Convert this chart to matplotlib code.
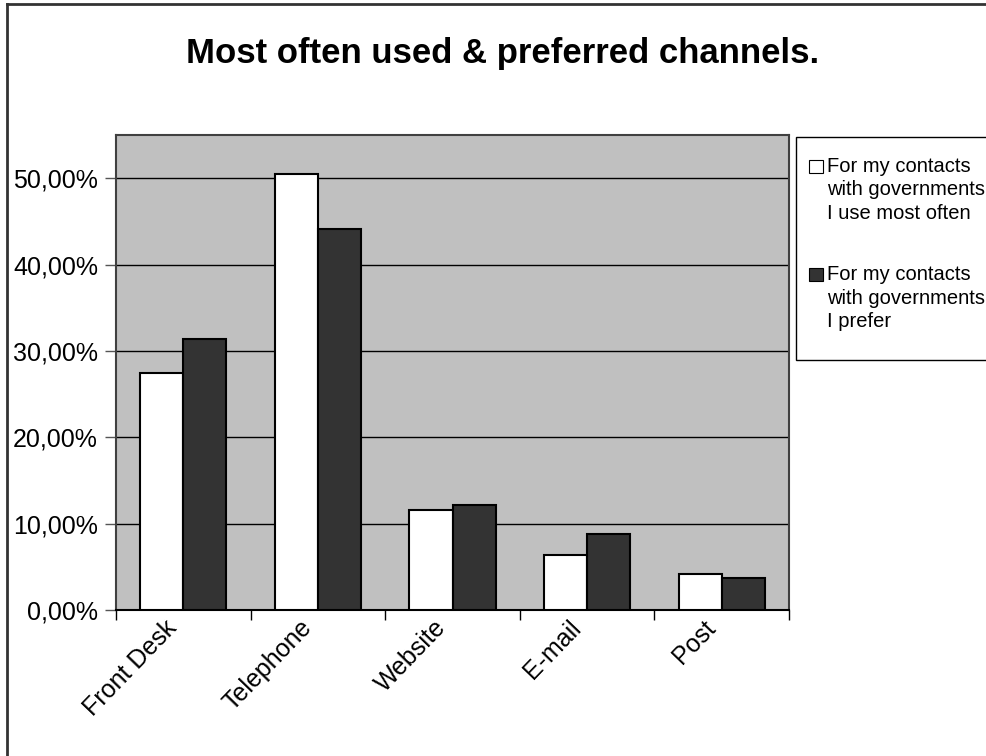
import numpy as np
import matplotlib
matplotlib.use("Agg")
import matplotlib.pyplot as plt
import matplotlib.transforms as mtransforms
from matplotlib.ticker import FuncFormatter, FixedLocator
from matplotlib.lines import Line2D
from matplotlib.patches import Rectangle

plt.rcParams['font.family'] = ['Liberation Sans', 'DejaVu Sans']

# data
channels = ["Front Desk", "Telephone", "Website", "E-mail", "Post"]
use_most_often = [0.274, 0.505, 0.116, 0.064, 0.042]
prefer = [0.314, 0.441, 0.122, 0.088, 0.037]
series_labels = ["For my contacts\nwith governments\nI use most often",
                 "For my contacts\nwith governments\nI prefer"]
series_colors = ["white", "#333333"]

W, H = 987, 756
fig = plt.figure(figsize=(W / 100, H / 100), dpi=100, facecolor="w")

def fx(px):
    return px / W

def fy(py):
    return 1 - py / H

ax = fig.add_axes([fx(116), fy(610), fx(789) - fx(116), fy(135) - fy(610)])
ax.set_facecolor("#c0c0c0")

x = np.arange(len(channels))
w = 0.32
ax.bar(x - w/2, use_most_often, w, color=series_colors[0], edgecolor="black", linewidth=1.5, zorder=3)
ax.bar(x + w/2, prefer, w, color=series_colors[1], edgecolor="black", linewidth=1.5, zorder=3)

ax.set_xlim(-0.5, len(channels) - 0.5)
ax.set_ylim(0, 0.55)
ax.set_yticks(np.arange(0, 0.51, 0.1))
ax.yaxis.set_major_formatter(FuncFormatter(lambda v, p: "{:.2f}%".format(v * 100).replace(".", ",")))
ax.grid(axis='y', color="black", linewidth=1, zorder=1)
ax.set_axisbelow(True)

# category labels, boundary ticks
ax.set_xticks(x)
ax.set_xticklabels(channels, fontsize=18, rotation=46, ha='right', va='center',
                   rotation_mode='anchor')
ax.tick_params(axis='x', which='major', length=0, pad=10)
offset = mtransforms.ScaledTranslation(-10 / 100, 0, fig.dpi_scale_trans)
for lab in ax.get_xticklabels():
    lab.set_transform(lab.get_transform() + offset)
ax.xaxis.set_minor_locator(FixedLocator(np.arange(-0.5, len(channels), 1.0)))
ax.tick_params(axis='x', which='minor', direction='out', length=7, width=1, color="black")
ax.tick_params(axis='y', direction='out', length=8, width=1, labelsize=18, pad=5, color="#555555")

for s in ax.spines.values():
    s.set_color("#404040")
    s.set_linewidth(1.5)
ax.spines['bottom'].set_color("black")

# legend box, drawn by hand so the marker sits on the first line
fig.add_artist(Rectangle((fx(796.5), fy(360)), fx(1010) - fx(796.5), fy(136.5) - fy(360),
                         transform=fig.transFigure, facecolor="white", edgecolor="black", linewidth=1))
block_top = [166.5, 275]
for lbl, col, top in zip(series_labels, series_colors, block_top):
    fig.add_artist(Rectangle((fx(809), fy(top + 6)), fx(14), fx(13) * W / H,
                             transform=fig.transFigure, facecolor=col, edgecolor="black", linewidth=0.8))
    for i, line in enumerate(lbl.split("\n")):
        fig.text(fx(827), fy(top + i * 23.4), line, fontsize=14.5, ha='left', va='center')

fig.text(fx(502.5), fy(53), "Most often used & preferred channels.", fontsize=25,
         fontweight='bold', ha='center', va='center')

# chart area border (left and top)
fig.add_artist(Line2D([fx(6.5), fx(6.5)], [0, fy(3.5)], color="#333333", linewidth=2, transform=fig.transFigure))
fig.add_artist(Line2D([fx(6.5), 1.0], [fy(3.5), fy(3.5)], color="#333333", linewidth=2, transform=fig.transFigure))

fig.savefig("out.png", dpi=100, facecolor="white")
